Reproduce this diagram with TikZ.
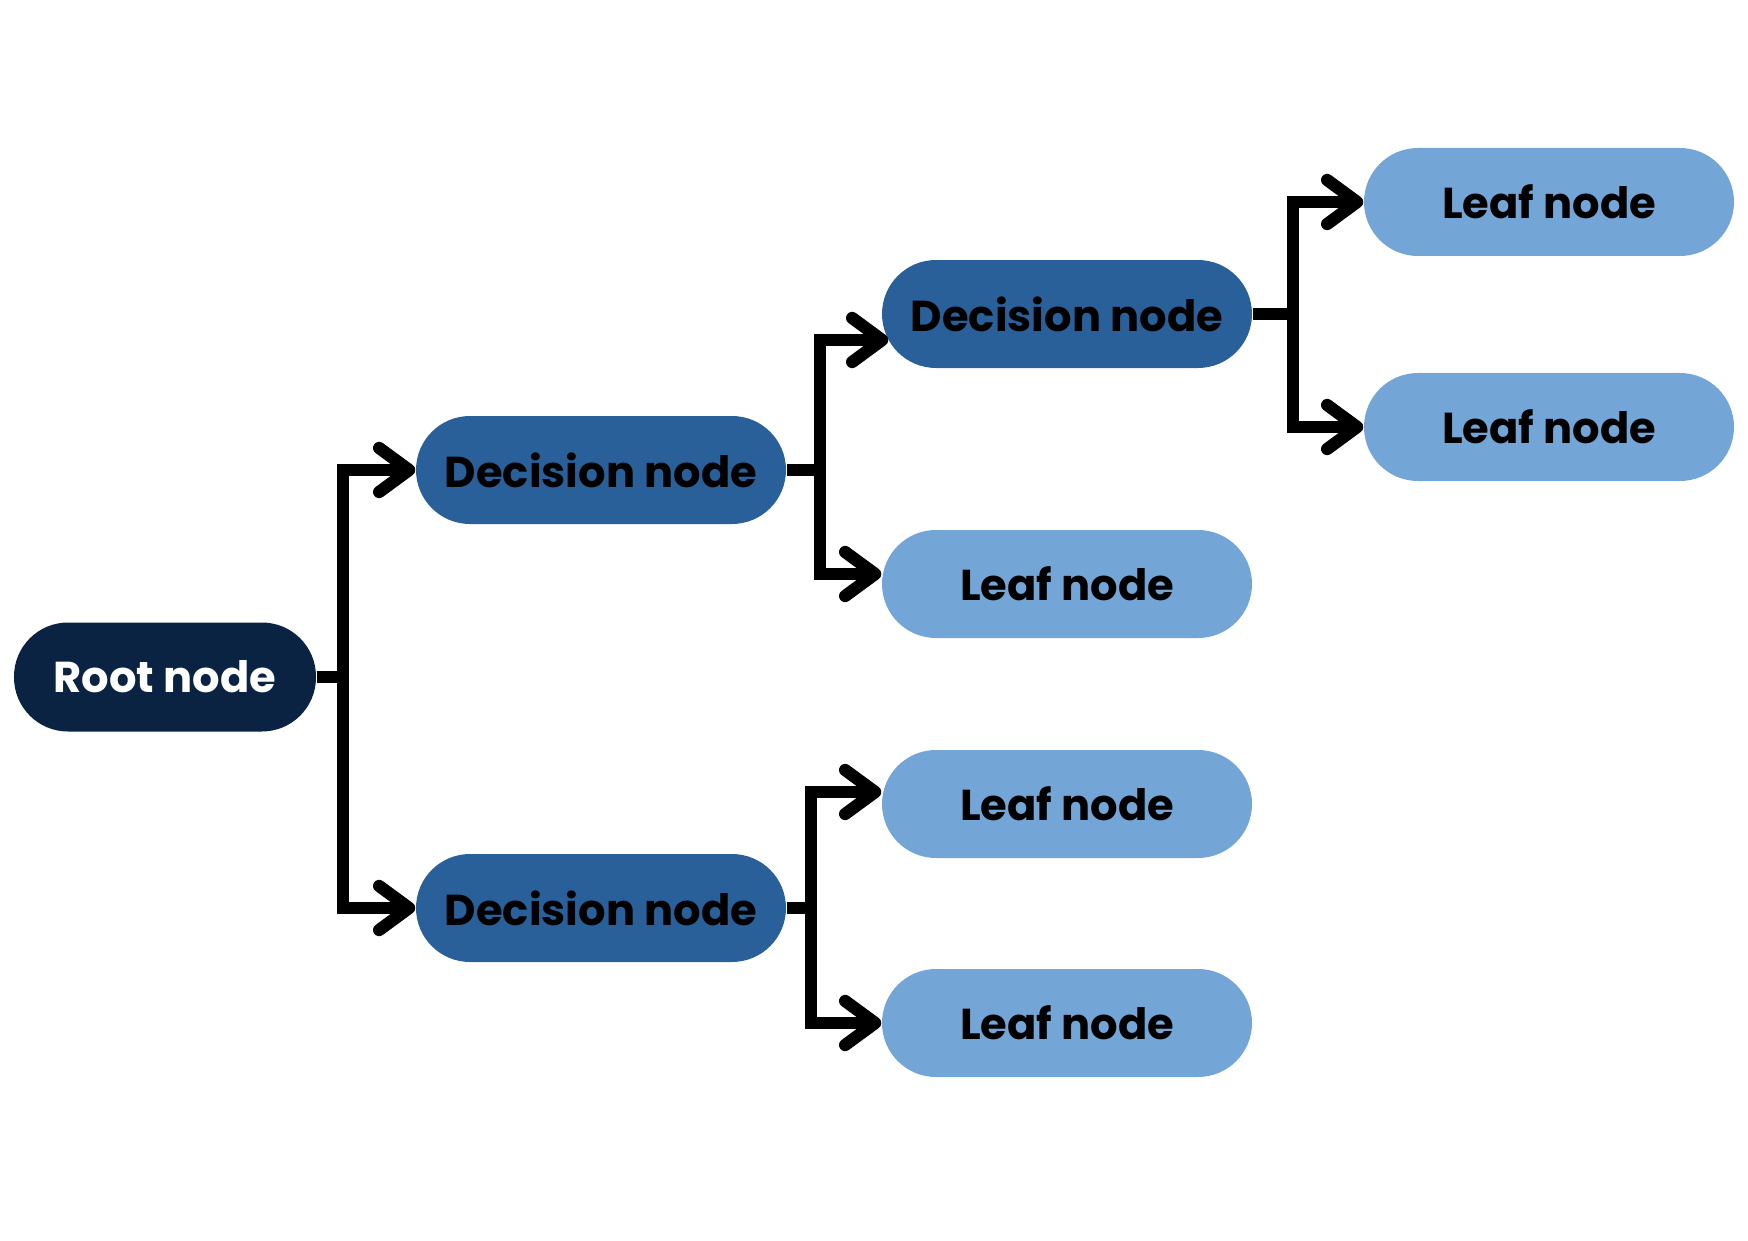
\documentclass[tikz,border=0pt]{standalone}
\usepackage{fontspec}
\setmainfont{Poppins}
\usetikzlibrary{arrows.meta}

\definecolor{rootblue}{HTML}{0A2342}
\definecolor{decblue}{HTML}{2A6099}
\definecolor{leafblue}{HTML}{74A5D7}

\tikzset{
  treebox/.style={rectangle, rounded corners=5.4mm, minimum width=3.7cm, minimum height=1.08cm,
    inner sep=0pt, font=\fontsize{12.3}{15}\selectfont\bfseries},
  rootbox/.style={treebox, fill=rootblue, text=white, minimum width=3.02cm, minimum height=1.09cm},
  decisionbox/.style={treebox, fill=decblue, text=black},
  leafbox/.style={treebox, fill=leafblue, text=black},
  link/.style={line width=3.5pt, line join=miter, -{Straight Barb[length=3mm,width=4.4mm,round]}},
}

\begin{document}
\begin{tikzpicture}

\useasboundingbox (0,0) rectangle (17.48,12.40);

% nodes
\node[rootbox] (root) at (1.65,5.63) {Root node};

\node[decisionbox] (dec1) at (6.01,7.70) {Decision node};
\node[decisionbox] (dec2) at (6.01,3.32) {Decision node};
\node[decisionbox] (dec3) at (10.67,9.26) {Decision node};

\node[leafbox] (leaf1) at (10.67,6.56) {Leaf node};
\node[leafbox] (leaf2) at (10.67,4.36) {Leaf node};
\node[leafbox] (leaf3) at (10.67,2.17) {Leaf node};
\node[leafbox] (leaf4) at (15.49,10.38) {Leaf node};
\node[leafbox] (leaf5) at (15.49,8.13) {Leaf node};

% root branches
\draw[link] (root.east) -- ++(0.26,0) |- (dec1.west);
\draw[link] (root.east) -- ++(0.26,0) |- (dec2.west);

% upper decision branches
\draw[link] (dec1.east) -- ++(0.33,0) |- ([xshift=0.7mm,yshift=-2.6mm]dec3.west);
\draw[link] (dec1.east) -- ++(0.33,0) |- ([yshift=1mm]leaf1.west);

% lower decision branches
\draw[link] (dec2.east) -- ++(0.24,0) |- ([yshift=1.2mm]leaf2.west);
\draw[link] (dec2.east) -- ++(0.24,0) |- (leaf3.west);

% top decision branches
\draw[link] (dec3.east) -- ++(0.40,0) |- (leaf4.west);
\draw[link] (dec3.east) -- ++(0.40,0) |- (leaf5.west);

\end{tikzpicture}
\end{document}
